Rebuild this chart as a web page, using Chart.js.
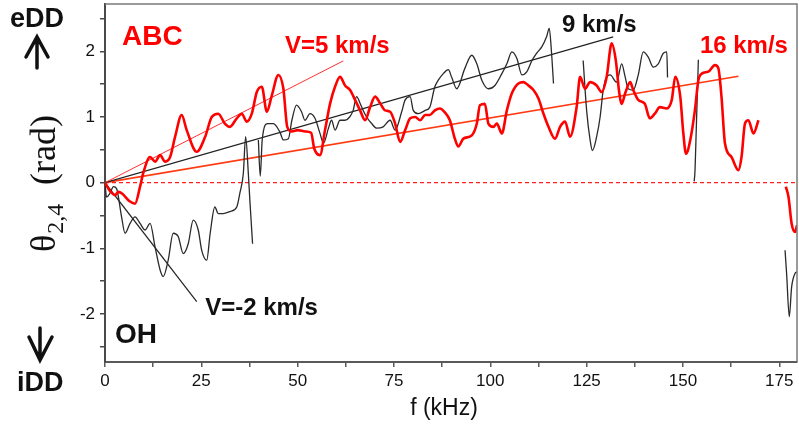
<!DOCTYPE html>
<html>
<head>
<meta charset="utf-8">
<script src="https://cdn.jsdelivr.net/npm/chart.js@4.4.1/dist/chart.umd.min.js"></script>
<style>
html, body { margin: 0; padding: 0; background: #fff; }
#phase { display: block; }
</style>
</head>
<body>
<canvas id="phase" width="799" height="426"></canvas>
<script>
// ABC (red) phase vs frequency, null = gap
const abcFreq = [0, 1.2, 2.6, 3.5, 4.5, 6.3, 7.8, 9.1, 9.9, 11.7, 13, 14.3, 15.6, 16.9, 18.2, 19.9, 21.2, 23.8, 26, 27.7,
  29.4, 31.1, 32.4, 34.2, 35.5, 36.8, 38.1, 39.4, 40.7, 42, 43.3, 45, 46.3, 47.3, 48.5, 50, 52, 53.5, 54.3, 55.8,
  57.1, 58.4, 59.7, 61, 62.3, 63.6, 64.9, 66.2, 67.5, 68.8, 70.1, 71.4, 72.7, 74, 75.3, 76.6, 77.9, 79.2, 80.5, 81.8,
  83.1, 84.3, 85.6, 86.9, 88.2, 89.5, 90.8, 91.7, 93, 95.2, 96.5, 97.3, 98.6, 99.5, 100.8, 101.7, 103, 104.3, 105.6, 107.3,
  108.6, 109.9, 111.2, 112.5, 113.8, 115.1, 116.8, 118.1, 119.4, 120.7, 122.4, 123.3, 124.6, 125.9, 127.6, 128.9, 130.2, 131.5, 132.6, 133.4,
  134.1, 135, 136.3, 137.1, 138.4, 140.1, 141.4, 142.7, 144, 145.8, 147.1, 148, 149.3, 150.1, 150.8, 151.9, 153.1, 154, 154.9, 156.6,
  158.3, 159.2, 160, 160.9, 162.6, 164.4, 165.2, 166.1, 167, 168.3, 169.6, 173, 176.7, 177.4, 178.2, 179.1, 179.6];
const abcPhase = [0, -0.12, -0.19, -0.14, -0.17, -0.28, -0.32, -0.06, 0.14, 0.39, 0.32, 0.42, 0.32, 0.39, 0.70, 1.03, 0.80, 0.47, 0.70, 1.0,
  1.05, 0.90, 0.85, 0.98, 1.05, 0.93, 1.05, 1.38, 1.46, 1.08, 1.33, 1.64, 1.43, 0.85, 0.78, 0.80, 0.78, 0.76, 0.52, 0.42,
  0.80, 1.2, 1.46, 1.61, 1.48, 1.41, 1.26, 1.10, 0.95, 1.15, 1.31, 1.21, 1.10, 1.08, 0.90, 0.62, 0.80, 0.98, 1.0, 0.95,
  1.03, 1.03, 1.10, 1.13, 1.07, 0.95, 0.67, 0.55, 0.67, 0.72, 0.90, 1.18, 1.20, 0.90, 0.85, 0.90, 0.75, 1.10, 1.36, 1.51,
  1.53, 1.48, 1.41, 1.28, 1.05, 0.85, 0.67, 0.85, 0.93, 0.70, 1.15, 1.61, 1.43, 1.53, 1.48, 1.38, 1.61, 2.12, 1.85, 1.40,
  1.20, 1.36, 1.53, 1.41, 1.26, 1.20, 0.98, 1.05, 1.15, 1.13, 1.26, 1.61, 1.31, 0.75, 0.44, 0.65, 1.10, 1.56, 1.66, 1.69,
  1.79, 1.74, 1.31, 0.60, 0.39, 0.19, 0.39, 0.90, 0.95, 0.75, 0.95, null, -0.06, -0.22, -0.62, -0.75, -0.65];

// OH (black) phase vs frequency, null = gap
const ohFreq = [0, 0.4, 1.3, 2.2, 3, 4.3, 5.2, 6.5, 7.8, 9.1, 10.4, 11.7, 13, 14.3, 15.1, 16.4, 17.7, 19, 20.3, 21.6,
  22.9, 24.2, 25.1, 26.4, 27.3, 28.5, 29.4, 30.7, 32.4, 34.2, 35, 35.9, 36.5, 37.2, 37.6, 38.3, 39, 39.8, 40.3, 40.8,
  42.2, 43.7, 45.4, 46.3, 47.6, 48.5, 49.7, 51, 51.9, 53.2, 54.5, 55.8, 56.7, 58, 58.8, 59.7, 61, 62.3, 63.5, 64.4,
  65.3, 66.2, 67, 67.9, 69.2, 70.5, 72.2, 74, 75.3, 77, 77.9, 79.2, 80, 81.3, 83.1, 84.3, 85.6, 86.5, 87.8, 89.1,
  90, 91.3, 93.4, 95.2, 96.5, 97.8, 99.5, 101.2, 103, 104.3, 105.6, 106.9, 108.2, 109.5, 110.8, 112, 113.4, 114.6, 115.3, 115.9,
  116.4, 120, 124.1, 125, 125.9, 126.5, 127.6, 128.5, 129.3, 130.2, 131.1, 132.8, 134.1, 135, 135.8, 137.1, 138.4, 139.7, 141, 142.3,
  143.6, 144.9, 145.8, 146, 149, 152.9, 153.1, 153.5, 154, 165, 176.5, 176.9, 177.6, 178.2, 179.1, 179.6];
const ohPhase = [0, -0.22, -0.16, -0.06, -0.09, -0.52, -0.77, -0.62, -0.52, -0.62, -0.72, -0.62, -0.98, -1.33, -1.43, -1.18, -0.77, -0.82, -1.08, -0.93,
  -0.57, -0.72, -1.03, -1.18, -0.77, -0.37, -0.47, -0.47, -0.44, -0.37, -0.16, 0.14, 0.70, 0.14, -0.27, -0.93, null, 0.65, 0.10, 0.65,
  0.90, 0.90, 0.77, 0.65, 0.67, 0.95, 1.18, 1.08, 0.95, 1.05, 0.98, 0.75, 0.60, 0.83, 0.95, 0.80, 0.95, 0.95, 1.0, 1.10,
  1.31, 1.21, 1.10, 1.0, 0.90, 0.83, 0.85, 0.95, 0.80, 1.08, 1.26, 1.31, 1.10, 1.05, 1.10, 1.15, 1.46, 1.56, 1.66, 1.72,
  1.60, 1.43, 1.74, 1.94, 1.81, 1.56, 1.43, 1.48, 1.66, 1.81, 1.99, 1.89, 1.64, 1.69, 1.86, 1.97, 2.07, 2.22, 2.35, 1.97,
  1.51, null, 1.86, 1.10, 0.65, 0.49, 0.70, 1.0, 1.41, 1.61, 1.64, 1.53, 1.81, 1.61, 1.43, 1.41, 1.64, 1.99, 1.91, 1.76,
  1.81, 1.97, 1.99, 1.60, null, 0.02, 0.15, 0.9, 1.87, null, -1.03, -1.38, -2.04, -1.59, -1.38, -1.36];

// straight velocity lines from the origin
const fitNames = ['V=5 km/s', '9 km/s', '16 km/s', 'V=-2 km/s'];
const fitEndFreq = [61.85, 131.9, 164.4, 23.8];
const fitEndPhase = [1.854, 2.22, 1.62, -1.81];

const xTicks = [0, 25, 50, 75, 100, 125, 150, 175];
const yTicks = [-2, -1, 0, 1, 2];

const fitColors = ['#ff3030', '#222222', '#ff3a10', '#222222'];
const fitWidths = [1, 1.2, 1.6, 1.2];

const fitSets = fitNames.map((n, i) => ({
  label: n,
  data: [{x: 0, y: 0}, {x: fitEndFreq[i], y: fitEndPhase[i]}],
  borderColor: fitColors[i],
  borderWidth: fitWidths[i],
  order: 2
}));

const sansFont = 'Liberation Sans, Arial, sans-serif';

const decor = {
  id: 'decor',
  afterDraw(chart) {
    const {ctx, chartArea: a, scales: {x, y}} = chart;
    ctx.save();
    // top and right frame
    ctx.strokeStyle = '#7a7a7a';
    ctx.lineWidth = 1.5;
    ctx.beginPath();
    ctx.moveTo(a.left, a.top);
    ctx.lineTo(a.right, a.top);
    ctx.lineTo(a.right, a.bottom);
    ctx.stroke();

    // labels inside the plot
    const notes = [
      ['ABC', 4.4, 2.09, 'bold 28px ' + sansFont, '#ff0000'],
      [fitNames[0], 46.7, 1.97, 'bold 24px ' + sansFont, '#ff0000'],
      [fitNames[1], 118.6, 2.30, 'bold 24px ' + sansFont, '#111'],
      [fitNames[2], 154.4, 1.97, 'bold 24px ' + sansFont, '#ff0000'],
      [fitNames[3], 26, -2.02, 'bold 24px ' + sansFont, '#111'],
      ['OH', 2.6, -2.44, 'bold 28px ' + sansFont, '#111']
    ];
    ctx.textAlign = 'left';
    ctx.textBaseline = 'alphabetic';
    notes.forEach(n => {
      ctx.font = n[3];
      ctx.fillStyle = n[4];
      ctx.fillText(n[0], x.getPixelForValue(n[1]), y.getPixelForValue(n[2]));
    });

    // eDD / iDD with arrows
    ctx.fillStyle = '#111';
    ctx.font = 'bold 27px ' + sansFont;
    ctx.fillText('eDD', 10, 27);
    ctx.fillText('iDD', 17, 391);
    ctx.strokeStyle = '#111';
    ctx.lineWidth = 3.5;
    ctx.lineCap = 'round';
    ctx.beginPath();
    ctx.moveTo(37, 68); ctx.lineTo(37, 38);
    ctx.moveTo(26, 57); ctx.lineTo(37, 37); ctx.lineTo(48, 57);
    ctx.moveTo(40, 328); ctx.lineTo(40, 359);
    ctx.moveTo(29, 337); ctx.lineTo(40, 360); ctx.lineTo(52, 337);
    ctx.stroke();

    // y title
    ctx.save();
    ctx.translate(55, 252);
    ctx.rotate(-Math.PI / 2);
    ctx.fillStyle = '#111';
    ctx.font = '36px Liberation Serif, serif';
    ctx.fillText('\u03b8', 0, 0);
    const w = ctx.measureText('\u03b8').width;
    ctx.font = '24px Liberation Serif, serif';
    ctx.fillText('2,4', w + 1, 8);
    ctx.font = '36px Liberation Serif, serif';
    ctx.fillText('(rad)', 67, 0);
    ctx.restore();

    // x title
    ctx.font = '23px ' + sansFont;
    ctx.textAlign = 'center';
    ctx.fillStyle = '#111';
    ctx.fillText('f (kHz)', 444, 415);
    ctx.restore();
  }
};

new Chart(document.getElementById('phase'), {
  type: 'line',
  data: {
    datasets: [
      {
        label: 'ABC',
        data: abcFreq.map((f, i) => ({x: f, y: abcPhase[i]})),
        borderColor: '#ff0000',
        borderWidth: 2.6,
        cubicInterpolationMode: 'monotone',
        spanGaps: false,
        order: 0
      },
      {
        label: 'OH',
        data: ohFreq.map((f, i) => ({x: f, y: ohPhase[i]})),
        borderColor: '#2a2a2a',
        borderWidth: 1.3,
        cubicInterpolationMode: 'monotone',
        spanGaps: false,
        order: 1
      },
      ...fitSets,
      {
        label: 'zero',
        data: [{x: 0, y: 0}, {x: 179.6, y: 0}],
        borderColor: '#ff2020',
        borderWidth: 1.2,
        borderDash: [4, 3],
        order: 3
      }
    ]
  },
  options: {
    responsive: false,
    animation: false,
    devicePixelRatio: 1,
    layout: {padding: {top: 4, right: 2, left: 0, bottom: 0}},
    elements: {point: {radius: 0}},
    plugins: {legend: {display: false}, tooltip: {enabled: false}},
    scales: {
      x: {
        type: 'linear',
        min: 0,
        max: 179.6,
        afterFit: s => { s.height = 64; s.paddingLeft = 0; s.paddingRight = 0; },
        border: {color: '#5a5a5a', width: 2},
        grid: {drawOnChartArea: false, tickLength: 5, color: '#5a5a5a', lineWidth: 1.5},
        ticks: {
          stepSize: 12.5,
          includeBounds: false,
          autoSkip: false,
          maxRotation: 0,
          padding: 4,
          color: '#111',
          font: {family: sansFont, size: 17},
          callback: v => xTicks.includes(v) ? v : ''
        }
      },
      y: {
        min: -2.73,
        max: 2.72,
        afterFit: s => { s.width = 105; s.paddingTop = 0; s.paddingBottom = 0; },
        border: {color: '#4a4a4a', width: 2},
        grid: {drawOnChartArea: false, tickLength: 5, color: '#4a4a4a', lineWidth: 1.5},
        ticks: {
          stepSize: 0.5,
          includeBounds: false,
          autoSkip: false,
          padding: 5,
          color: '#111',
          font: {family: sansFont, size: 17},
          callback: v => yTicks.includes(v) ? v : ''
        }
      }
    }
  },
  plugins: [decor]
});
</script>
</body>
</html>
